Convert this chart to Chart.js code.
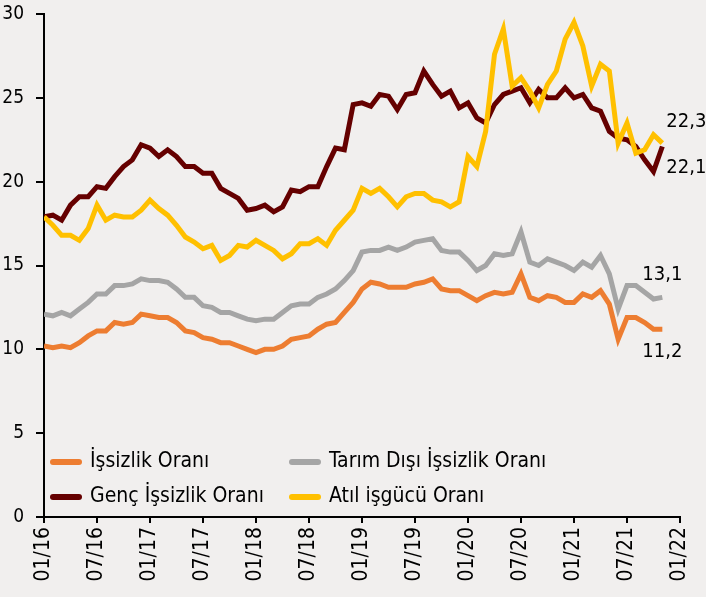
<!DOCTYPE html>
<html>
<head>
<meta charset="utf-8">
<script src="https://cdn.jsdelivr.net/npm/chart.js@4.4.1/dist/chart.umd.min.js"></script>
<style>
  html, body { margin: 0; padding: 0; background: #f1efee; }
  canvas { display: block; }
</style>
</head>
<body>
<canvas id="chart" width="706" height="597"></canvas>
<script>
// month index 0 = 01/16, ticks every 6 months
const xTickLabels = ['01/16', '07/16', '01/17', '07/17', '01/18', '07/18', '01/19',
                     '07/19', '01/20', '07/20', '01/21', '07/21', '01/22'];

const seriesNames = ['İşsizlik Oranı', 'Tarım Dışı İşsizlik Oranı', 'Genç İşsizlik Oranı', 'Atıl işgücü Oranı'];

const issizlik = [10.2, 10.1, 10.2, 10.1, 10.4, 10.8, 11.1, 11.1, 11.6, 11.5, 11.6, 12.1, 12.0, 11.9, 11.9, 11.6, 11.1, 11.0,
                  10.7, 10.6, 10.4, 10.4, 10.2, 10.0, 9.8, 10.0, 10.0, 10.2, 10.6, 10.7, 10.8, 11.2, 11.5, 11.6, 12.2, 12.8,
                  13.6, 14.0, 13.9, 13.7, 13.7, 13.7, 13.9, 14.0, 14.2, 13.6, 13.5, 13.5, 13.2, 12.9, 13.2, 13.4, 13.3, 13.4,
                  14.5, 13.1, 12.9, 13.2, 13.1, 12.8, 12.8, 13.3, 13.1, 13.5, 12.7, 10.6, 11.9, 11.9, 11.6, 11.2, 11.2];

const tarimDisi = [12.1, 12.0, 12.2, 12.0, 12.4, 12.8, 13.3, 13.3, 13.8, 13.8, 13.9, 14.2, 14.1, 14.1, 14.0, 13.6, 13.1, 13.1,
                   12.6, 12.5, 12.2, 12.2, 12.0, 11.8, 11.7, 11.8, 11.8, 12.2, 12.6, 12.7, 12.7, 13.1, 13.3, 13.6, 14.1, 14.7,
                   15.8, 15.9, 15.9, 16.1, 15.9, 16.1, 16.4, 16.5, 16.6, 15.9, 15.8, 15.8, 15.3, 14.7, 15.0, 15.7, 15.6, 15.7,
                   17.0, 15.2, 15.0, 15.4, 15.2, 15.0, 14.7, 15.2, 14.9, 15.6, 14.5, 12.4, 13.8, 13.8, 13.4, 13.0, 13.1];

const genc = [17.9, 18.0, 17.7, 18.6, 19.1, 19.1, 19.7, 19.6, 20.3, 20.9, 21.3, 22.2, 22.0, 21.5, 21.9, 21.5, 20.9, 20.9,
              20.5, 20.5, 19.6, 19.3, 19.0, 18.3, 18.4, 18.6, 18.2, 18.5, 19.5, 19.4, 19.7, 19.7, 20.9, 22.0, 21.9, 24.6,
              24.7, 24.5, 25.2, 25.1, 24.3, 25.2, 25.3, 26.6, 25.8, 25.1, 25.4, 24.4, 24.7, 23.8, 23.5, 24.6, 25.2, 25.4,
              25.6, 24.7, 25.5, 25.0, 25.0, 25.6, 25.0, 25.2, 24.4, 24.2, 23.0, 22.6, 22.5, 22.1, 21.3, 20.6, 22.1];

const atil = [17.9, 17.4, 16.8, 16.8, 16.5, 17.2, 18.6, 17.7, 18.0, 17.9, 17.9, 18.3, 18.9, 18.4, 18.0, 17.4, 16.7, 16.4,
              16.0, 16.2, 15.3, 15.6, 16.2, 16.1, 16.5, 16.2, 15.9, 15.4, 15.7, 16.3, 16.3, 16.6, 16.2, 17.1, 17.7, 18.3,
              19.6, 19.3, 19.6, 19.1, 18.5, 19.1, 19.3, 19.3, 18.9, 18.8, 18.5, 18.8, 21.5, 20.9, 23.0, 27.6, 29.1, 25.7,
              26.2, 25.4, 24.4, 25.8, 26.6, 28.5, 29.5, 28.1, 25.7, 27.0, 26.6, 22.3, 23.5, 21.7, 21.9, 22.8, 22.3];

const seriesValues = [issizlik, tarimDisi, genc, atil];
const colors = ['#ed7d31', '#a5a5a5', '#650000', '#ffc000'];
const drawOrder = [4, 3, 2, 1]; // yellow on top

// end-of-line value labels
const labelOffsets = [
    { align: 'center', dx: 0, dy: 23 },
    { align: 'center', dx: 0, dy: -23 },
    { align: 'left', dx: 4, dy: 21 },
    { align: 'left', dx: 4, dy: -21 }
];

const FONT = '"DejaVu Sans Condensed", "DejaVu Sans", sans-serif';

const endLabels = {
    id: 'endLabels',
    afterDatasetsDraw(chart) {
        const ctx = chart.ctx;
        ctx.save();
        ctx.font = '20px ' + FONT;
        ctx.fillStyle = '#000';
        ctx.textBaseline = 'middle';
        chart.data.datasets.forEach((ds, i) => {
            const meta = chart.getDatasetMeta(i);
            const pt = meta.data[meta.data.length - 1];
            const off = labelOffsets[i];
            const v = seriesValues[i][seriesValues[i].length - 1];
            ctx.textAlign = off.align;
            ctx.fillText(v.toFixed(1).replace('.', ','), pt.x + off.dx, pt.y + off.dy);
        });
        ctx.restore();
    }
};

// legend in two columns inside the plot
const insideLegend = {
    id: 'insideLegend',
    afterDraw(chart) {
        const ctx = chart.ctx;
        const colX = [53, 292];
        const rowY = [462, 497];
        ctx.save();
        ctx.font = '21px ' + FONT;
        ctx.textBaseline = 'middle';
        ctx.textAlign = 'left';
        seriesNames.forEach((name, i) => {
            const x = colX[i % 2];
            const y = rowY[Math.floor(i / 2)];
            ctx.strokeStyle = colors[i];
            ctx.lineWidth = 6;
            ctx.lineCap = 'round';
            ctx.beginPath();
            ctx.moveTo(x, y);
            ctx.lineTo(x + 26, y);
            ctx.stroke();
            ctx.fillStyle = '#000';
            ctx.fillText(name, x + 37, y);
        });
        ctx.restore();
    }
};

const ctx = document.getElementById('chart').getContext('2d');
new Chart(ctx, {
    type: 'line',
    data: {
        datasets: seriesValues.map((vals, i) => ({
            label: seriesNames[i],
            data: vals.map((v, m) => ({ x: m, y: v })),
            borderColor: colors[i],
            backgroundColor: colors[i],
            borderWidth: 5,
            pointRadius: 0,
            tension: 0,
            fill: false,
            order: drawOrder[i]
        }))
    },
    options: {
        responsive: false,
        animation: false,
        layout: { padding: { top: 14, right: 26, left: 0, bottom: 0 } },
        plugins: {
            legend: { display: false },
            tooltip: { enabled: false }
        },
        scales: {
            x: {
                type: 'linear',
                min: 0,
                max: 72,
                afterFit: (scale) => {
                    scale.height = 80;
                    scale.paddingLeft = 0;
                    scale.paddingRight = 0;
                },
                border: { color: '#000', width: 2 },
                grid: { drawOnChartArea: false, color: '#000', lineWidth: 2, tickLength: 6 },
                ticks: {
                    stepSize: 6,
                    autoSkip: false,
                    minRotation: 90,
                    maxRotation: 90,
                    padding: 4,
                    color: '#000',
                    font: { family: FONT, size: 21 },
                    callback: (v) => xTickLabels[v / 6]
                }
            },
            y: {
                min: 0,
                max: 30,
                afterFit: (scale) => {
                    scale.width = 44;
                    scale.paddingTop = 0;
                    scale.paddingBottom = 0;
                },
                border: { color: '#000', width: 2 },
                grid: { drawOnChartArea: false, color: '#000', lineWidth: 2, tickLength: 8 },
                ticks: {
                    stepSize: 5,
                    padding: 12,
                    color: '#000',
                    font: { family: FONT, size: 19 }
                }
            }
        }
    },
    plugins: [endLabels, insideLegend]
});
</script>
</body>
</html>
